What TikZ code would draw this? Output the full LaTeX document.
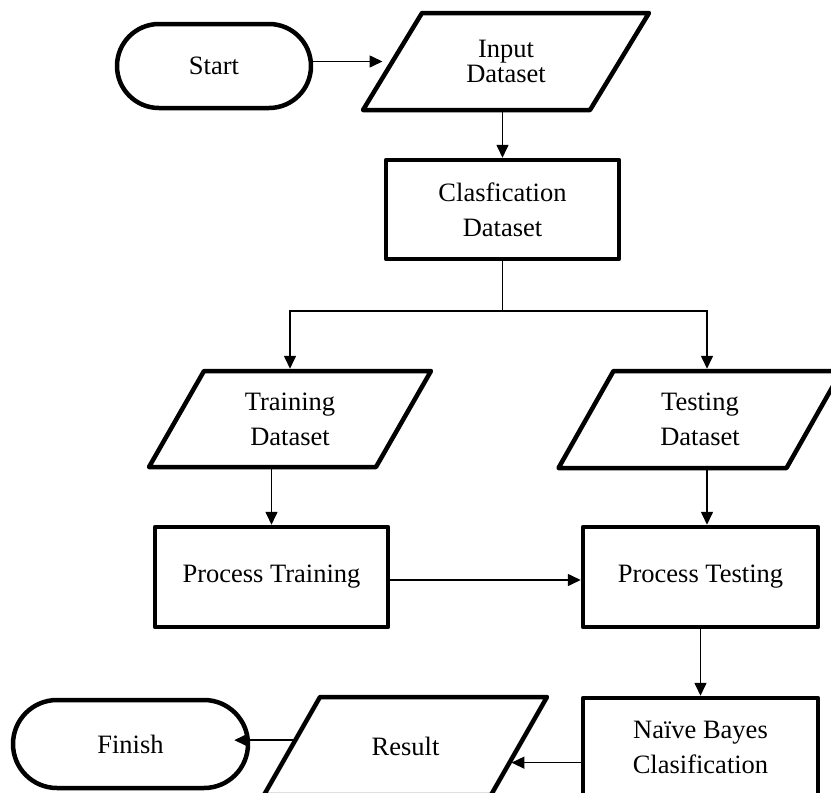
\documentclass[tikz,border=0pt]{standalone}
\usepackage{fontspec}
\setmainfont{Liberation Serif}
\usetikzlibrary{arrows.meta,calc}
\newcommand\iopath[2]{%
  \draw[iobord] ([xshift=#2]#1.north west) coordinate (#1-tl)
    -- ([xshift=#2]#1.north east) coordinate (#1-tr)
    -- ([xshift=-#2]#1.south east) coordinate (#1-br)
    -- ([xshift=-#2]#1.south west) coordinate (#1-bl) -- cycle;}
\begin{document}
\begin{tikzpicture}[x=1pt,y=-1pt,
  lbl/.style={align=center, font=\fontsize{26.5}{35}\selectfont, inner sep=0pt},
  box/.style={lbl, draw, line width=4.5pt, line join=round, rectangle},
  terminal/.style={box},
  io/.style={lbl, rectangle, outer sep=0pt},
  iobord/.style={draw, line width=4.5pt, line join=round},
  conn/.style={line width=1.6pt, -{Triangle[length=13pt,width=12pt]}}]
\clip (0,0) rectangle (831,793);
\node[terminal, minimum width=194pt, minimum height=84pt, rounded corners=42pt] (start) at (214,66) {Start};
\node[io, minimum width=227pt, minimum height=97pt, font=\fontsize{26.5}{25}\selectfont] (input) at (506,61.5) {Input\\Dataset};
\node[box, minimum width=233pt, minimum height=99pt] (clas) at (502.5,209.5) {Clasfication\\Dataset};
\node[io, minimum width=227pt, minimum height=96pt] (train) at (290,419) {Training\\Dataset};
\node[io, minimum width=228pt, minimum height=97pt] (test) at (700,419.5) {Testing\\Dataset};
\node[box, minimum width=233pt, minimum height=100pt] (ptrain) at (271.5,577) {Process Training};
\node[box, minimum width=235pt, minimum height=100pt] (ptest) at (700.5,577) {Process Testing};
\node[box, minimum width=235pt, minimum height=98pt] (naive) at (700.5,747) {Naïve Bayes\\Clasification};
\node[io, minimum width=227pt, minimum height=98pt] (result) at (405.5,746) {Result};
\node[terminal, minimum width=235pt, minimum height=88pt, rounded corners=44pt] (finish) at (130.5,744) {Finish};
\iopath{input}{29.5pt}
\iopath{train}{27.5pt}
\iopath{test}{27.5pt}
\iopath{result}{28pt}

\draw[conn, shorten >=10pt] (start.east |- input.west) -- (input.west);
\draw[conn] (input.south -| clas.north) -- (clas.north);
\coordinate (split) at ($(clas.south)+(0,50)$);
\draw[conn, shorten >=2.25pt] (clas.south) -- (split) -| (train.north);
\draw[conn, shorten >=2.25pt] (split) -| ([xshift=7pt]test.north);
\draw[conn] (train.south -| ptrain.north) -- (ptrain.north);
\draw[conn] ([xshift=6.5pt]ptest.north |- test.south) -- ([xshift=6.5pt]ptest.north);
\draw[conn] ([yshift=-3pt]ptrain.east) -- ([yshift=-3pt]ptest.west);
\draw[conn] (ptest.south) -- (naive.north);
\coordinate (rin) at ($(result-br)!0.33!(result-tr)$);
\draw[conn, shorten >=2pt] (naive.west |- rin) -- (rin);
\coordinate (rout) at ($(result-bl)!0.56!(result-tl)$);
\draw[conn, shorten >=-16pt] (rout) -- (finish.east |- rout);
\end{tikzpicture}
\end{document}
